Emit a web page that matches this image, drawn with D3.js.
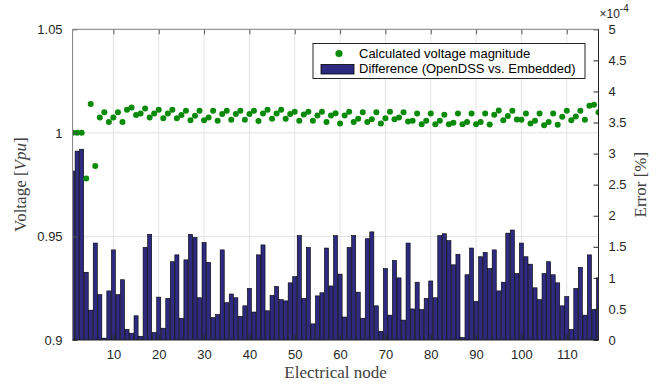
<!DOCTYPE html>
<html>
<head>
<meta charset="utf-8">
<script src="https://cdn.jsdelivr.net/npm/d3@7"></script>
<style>
  body { margin: 0; background: #fff; }
  text { font-family: "Liberation Sans", Arial, sans-serif; }
</style>
</head>
<body>
<div id="chart"></div>
<script>
// calculated voltage magnitude per node [pu]
var voltage = [1.0, 1.0, 1.0, 0.978, 1.0139, 0.984, 1.0074, 1.0099, 1.0053, 1.0074,
  1.0100, 1.0053, 1.0112, 1.0123, 1.0086, 1.0094, 1.0118, 1.0074, 1.0094, 1.0112,
  1.0070, 1.0094, 1.0112, 1.0070, 1.0086, 1.0107, 1.0061, 1.0083, 1.0107, 1.0061,
  1.0074, 1.0107, 1.0058, 1.0091, 1.0107, 1.0063, 1.0091, 1.0107, 1.0063, 1.0091,
  1.0107, 1.0057, 1.0094, 1.0112, 1.0068, 1.0094, 1.0112, 1.0068, 1.0091, 1.0102,
  1.0058, 1.0089, 1.0102, 1.0058, 1.0084, 1.0102, 1.0052, 1.0084, 1.0095, 1.0045,
  1.0084, 1.0102, 1.0052, 1.0068, 1.0100, 1.0052, 1.0066, 1.0099, 1.0045, 1.0070,
  1.0102, 1.0066, 1.0074, 1.0099, 1.0055, 1.0058, 1.0094, 1.0042, 1.0058, 1.0094,
  1.0042, 1.0058, 1.0087, 1.0042, 1.0049, 1.0094, 1.0042, 1.0052, 1.0094, 1.0042,
  1.0052, 1.0094, 1.0040, 1.0087, 1.0108, 1.0061, 1.0081, 1.0107, 1.0065, 1.0063,
  1.0094, 1.0045, 1.0058, 1.0094, 1.0037, 1.0053, 1.0094, 1.0039, 1.0078, 1.0107,
  1.0061, 1.0079, 1.0107, 1.0063, 1.0131, 1.0136, 1.0099];

// difference OpenDSS vs. embedded, in units of 1e-4 %
var errorVals = [2.72, 3.04, 3.07, 1.09, 0.48, 1.56, 0.73, 0.03, 0.79, 1.45,
  0.73, 0.97, 0.17, 0.11, 0.39, 0.06, 1.49, 1.70, 0.12, 0.69,
  0.19, 0.67, 1.26, 1.37, 0.35, 1.29, 1.70, 1.65, 0.68, 1.57,
  1.25, 0.36, 0.41, 1.45, 0.60, 0.74, 0.68, 0.38, 0.55, 0.83,
  0.45, 1.37, 1.53, 0.47, 0.72, 0.86, 0.65, 0.63, 0.92, 1.02,
  1.68, 0.67, 1.49, 0.26, 0.71, 0.76, 1.48, 0.87, 1.68, 1.06,
  0.37, 1.49, 1.68, 0.77, 0.35, 1.63, 1.74, 0.55, 0.14, 1.15,
  0.40, 1.28, 1.00, 0.32, 1.56, 0.50, 0.93, 0.49, 0.67, 0.95,
  0.68, 1.68, 1.71, 1.60, 1.21, 1.38, 0.04, 1.05, 1.48, 0.62,
  1.34, 1.41, 1.15, 1.45, 0.79, 0.93, 1.72, 1.77, 1.07, 1.56,
  1.34, 1.22, 0.84, 0.65, 1.07, 1.26, 1.05, 0.92, 0.55, 0.70,
  0.17, 0.83, 1.17, 0.40, 1.37, 0.49, 1.00];

var nodes = voltage.map(function(d, i) { return i + 1; });
var xTicks = [10, 20, 30, 40, 50, 60, 70, 80, 90, 100, 110];
var leftTicks = [0.9, 0.95, 1, 1.05];
var rightTicks = [0, 0.5, 1, 1.5, 2, 2.5, 3, 3.5, 4, 4.5, 5];
var legendLabels = ["Calculated voltage magnitude", "Difference (OpenDSS vs. Embedded)"];

var width = 661, height = 384;
var margin = {top: 29.3, right: 62.5, bottom: 44, left: 72.6};
var w = width - margin.left - margin.right,
    h = height - margin.top - margin.bottom;

var svg = d3.select("#chart").append("svg")
  .attr("width", width).attr("height", height);

var g = svg.append("g")
  .attr("transform", "translate(" + margin.left + "," + margin.top + ")");

var x = d3.scaleLinear().domain([1, nodes.length]).range([0, w]);
var yL = d3.scaleLinear().domain([0.9, 1.05]).range([h, 0]);
var yR = d3.scaleLinear().domain([0, 5]).range([h, 0]);

svg.append("defs").append("clipPath").attr("id", "clip")
  .append("rect").attr("width", w).attr("height", h);

// grid
var grid = g.append("g").attr("stroke", "#e3e3e3").attr("stroke-width", 1);
grid.selectAll(".gx").data(xTicks).enter().append("line")
  .attr("x1", function(d) { return x(d); }).attr("x2", function(d) { return x(d); })
  .attr("y1", 0).attr("y2", h);
grid.selectAll(".gy").data(leftTicks.slice(1, 3)).enter().append("line")
  .attr("x1", 0).attr("x2", w)
  .attr("y1", function(d) { return yL(d); }).attr("y2", function(d) { return yL(d); });

var plot = g.append("g").attr("clip-path", "url(#clip)");

// bars (right axis)
var bw = (x(2) - x(1)) * 0.9;
plot.selectAll(".bar").data(errorVals).enter().append("rect")
  .attr("x", function(d, i) { return x(nodes[i]) - bw / 2; })
  .attr("y", function(d) { return yR(d); })
  .attr("width", bw)
  .attr("height", function(d) { return h - yR(d); })
  .attr("fill", "#2e2a80")
  .attr("stroke", "#000")
  .attr("stroke-width", 0.6);

// voltage dots (left axis)
plot.selectAll(".dot").data(voltage).enter().append("circle")
  .attr("cx", function(d, i) { return x(nodes[i]); })
  .attr("cy", function(d) { return yL(d); })
  .attr("r", 3)
  .attr("fill", "#0a8a0a");

// axes
var tickLen = 5;
var xAxisB = g.append("g").attr("transform", "translate(0," + h + ")")
  .call(d3.axisBottom(x).tickValues(xTicks).tickSize(-tickLen).tickPadding(10));
var xAxisT = g.append("g")
  .call(d3.axisTop(x).tickValues(xTicks).tickSize(-tickLen).tickFormat(""));
var yAxisL = g.append("g")
  .call(d3.axisLeft(yL).tickValues(leftTicks).tickSize(-tickLen).tickPadding(10)
    .tickFormat(function(d) { return d3.format("")(+d.toFixed(2)); }));
var yAxisR = g.append("g").attr("transform", "translate(" + w + ",0)")
  .call(d3.axisRight(yR).tickValues(rightTicks).tickSize(-tickLen).tickPadding(10)
    .tickFormat(function(d) { return d3.format("")(d); }));

[xAxisB, xAxisT, yAxisL, yAxisR].forEach(function(a) {
  a.select(".domain").remove();
  a.selectAll("text").attr("font-size", 13).attr("fill", "#262626")
    .style("font-family", "'Liberation Sans', Arial, sans-serif");
});
xAxisT.selectAll("line").attr("stroke", "#555");
yAxisL.selectAll("line").attr("stroke", "#555");
xAxisB.selectAll("line").attr("stroke", "#262626");
yAxisR.selectAll("line").attr("stroke", "#262626");

// frame
g.append("line").attr("x1", 0).attr("x2", w).attr("y1", 0).attr("y2", 0).attr("stroke", "#808080");
g.append("line").attr("x1", 0).attr("x2", 0).attr("y1", 0).attr("y2", h).attr("stroke", "#808080");
g.append("line").attr("x1", 0).attr("x2", w).attr("y1", h).attr("y2", h).attr("stroke", "#262626");
g.append("line").attr("x1", w).attr("x2", w).attr("y1", 0).attr("y2", h).attr("stroke", "#262626");

// exponent
var ex = svg.append("text").attr("x", margin.left + w + 1).attr("y", 18)
  .attr("font-size", 12).attr("fill", "#262626");
ex.append("tspan").text("\u00d710");
ex.append("tspan").attr("dy", -6).attr("font-size", 10).text("-4");

// axis labels
var serif = "'Liberation Serif', 'DejaVu Serif', serif";
svg.append("text")
  .attr("x", margin.left + w / 2).attr("y", 378)
  .attr("text-anchor", "middle").attr("font-size", 17).attr("fill", "#404040")
  .style("font-family", serif).text("Electrical node");

var yl = svg.append("text")
  .attr("transform", "translate(26," + (margin.top + h / 2) + ") rotate(-90)")
  .attr("text-anchor", "middle").attr("font-size", 17).attr("fill", "#404040")
  .style("font-family", serif);
yl.append("tspan").text("Voltage [");
yl.append("tspan").attr("font-style", "italic").text("Vpu");
yl.append("tspan").text("]");

svg.append("text")
  .attr("transform", "translate(646," + (margin.top + h / 2) + ") rotate(-90)")
  .attr("text-anchor", "middle").attr("font-size", 17).attr("fill", "#404040")
  .style("font-family", serif).text("Error [%]");

// legend
var lg = svg.append("g").attr("transform", "translate(313,43.5)");
lg.append("rect").attr("width", 272).attr("height", 35)
  .attr("fill", "#fff").attr("stroke", "#262626").attr("stroke-width", 1);
lg.append("circle").attr("cx", 26).attr("cy", 10).attr("r", 3.6).attr("fill", "#0a8a0a");
lg.append("rect").attr("x", 8).attr("y", 21).attr("width", 33).attr("height", 9.5)
  .attr("fill", "#2e2a80").attr("stroke", "#000").attr("stroke-width", 0.8);
lg.selectAll(".lt").data(legendLabels).enter().append("text")
  .attr("x", 46).attr("y", function(d, i) { return 14.5 + i * 15; })
  .attr("font-size", 13).attr("fill", "#000").text(function(d) { return d; });
</script>
</body>
</html>
